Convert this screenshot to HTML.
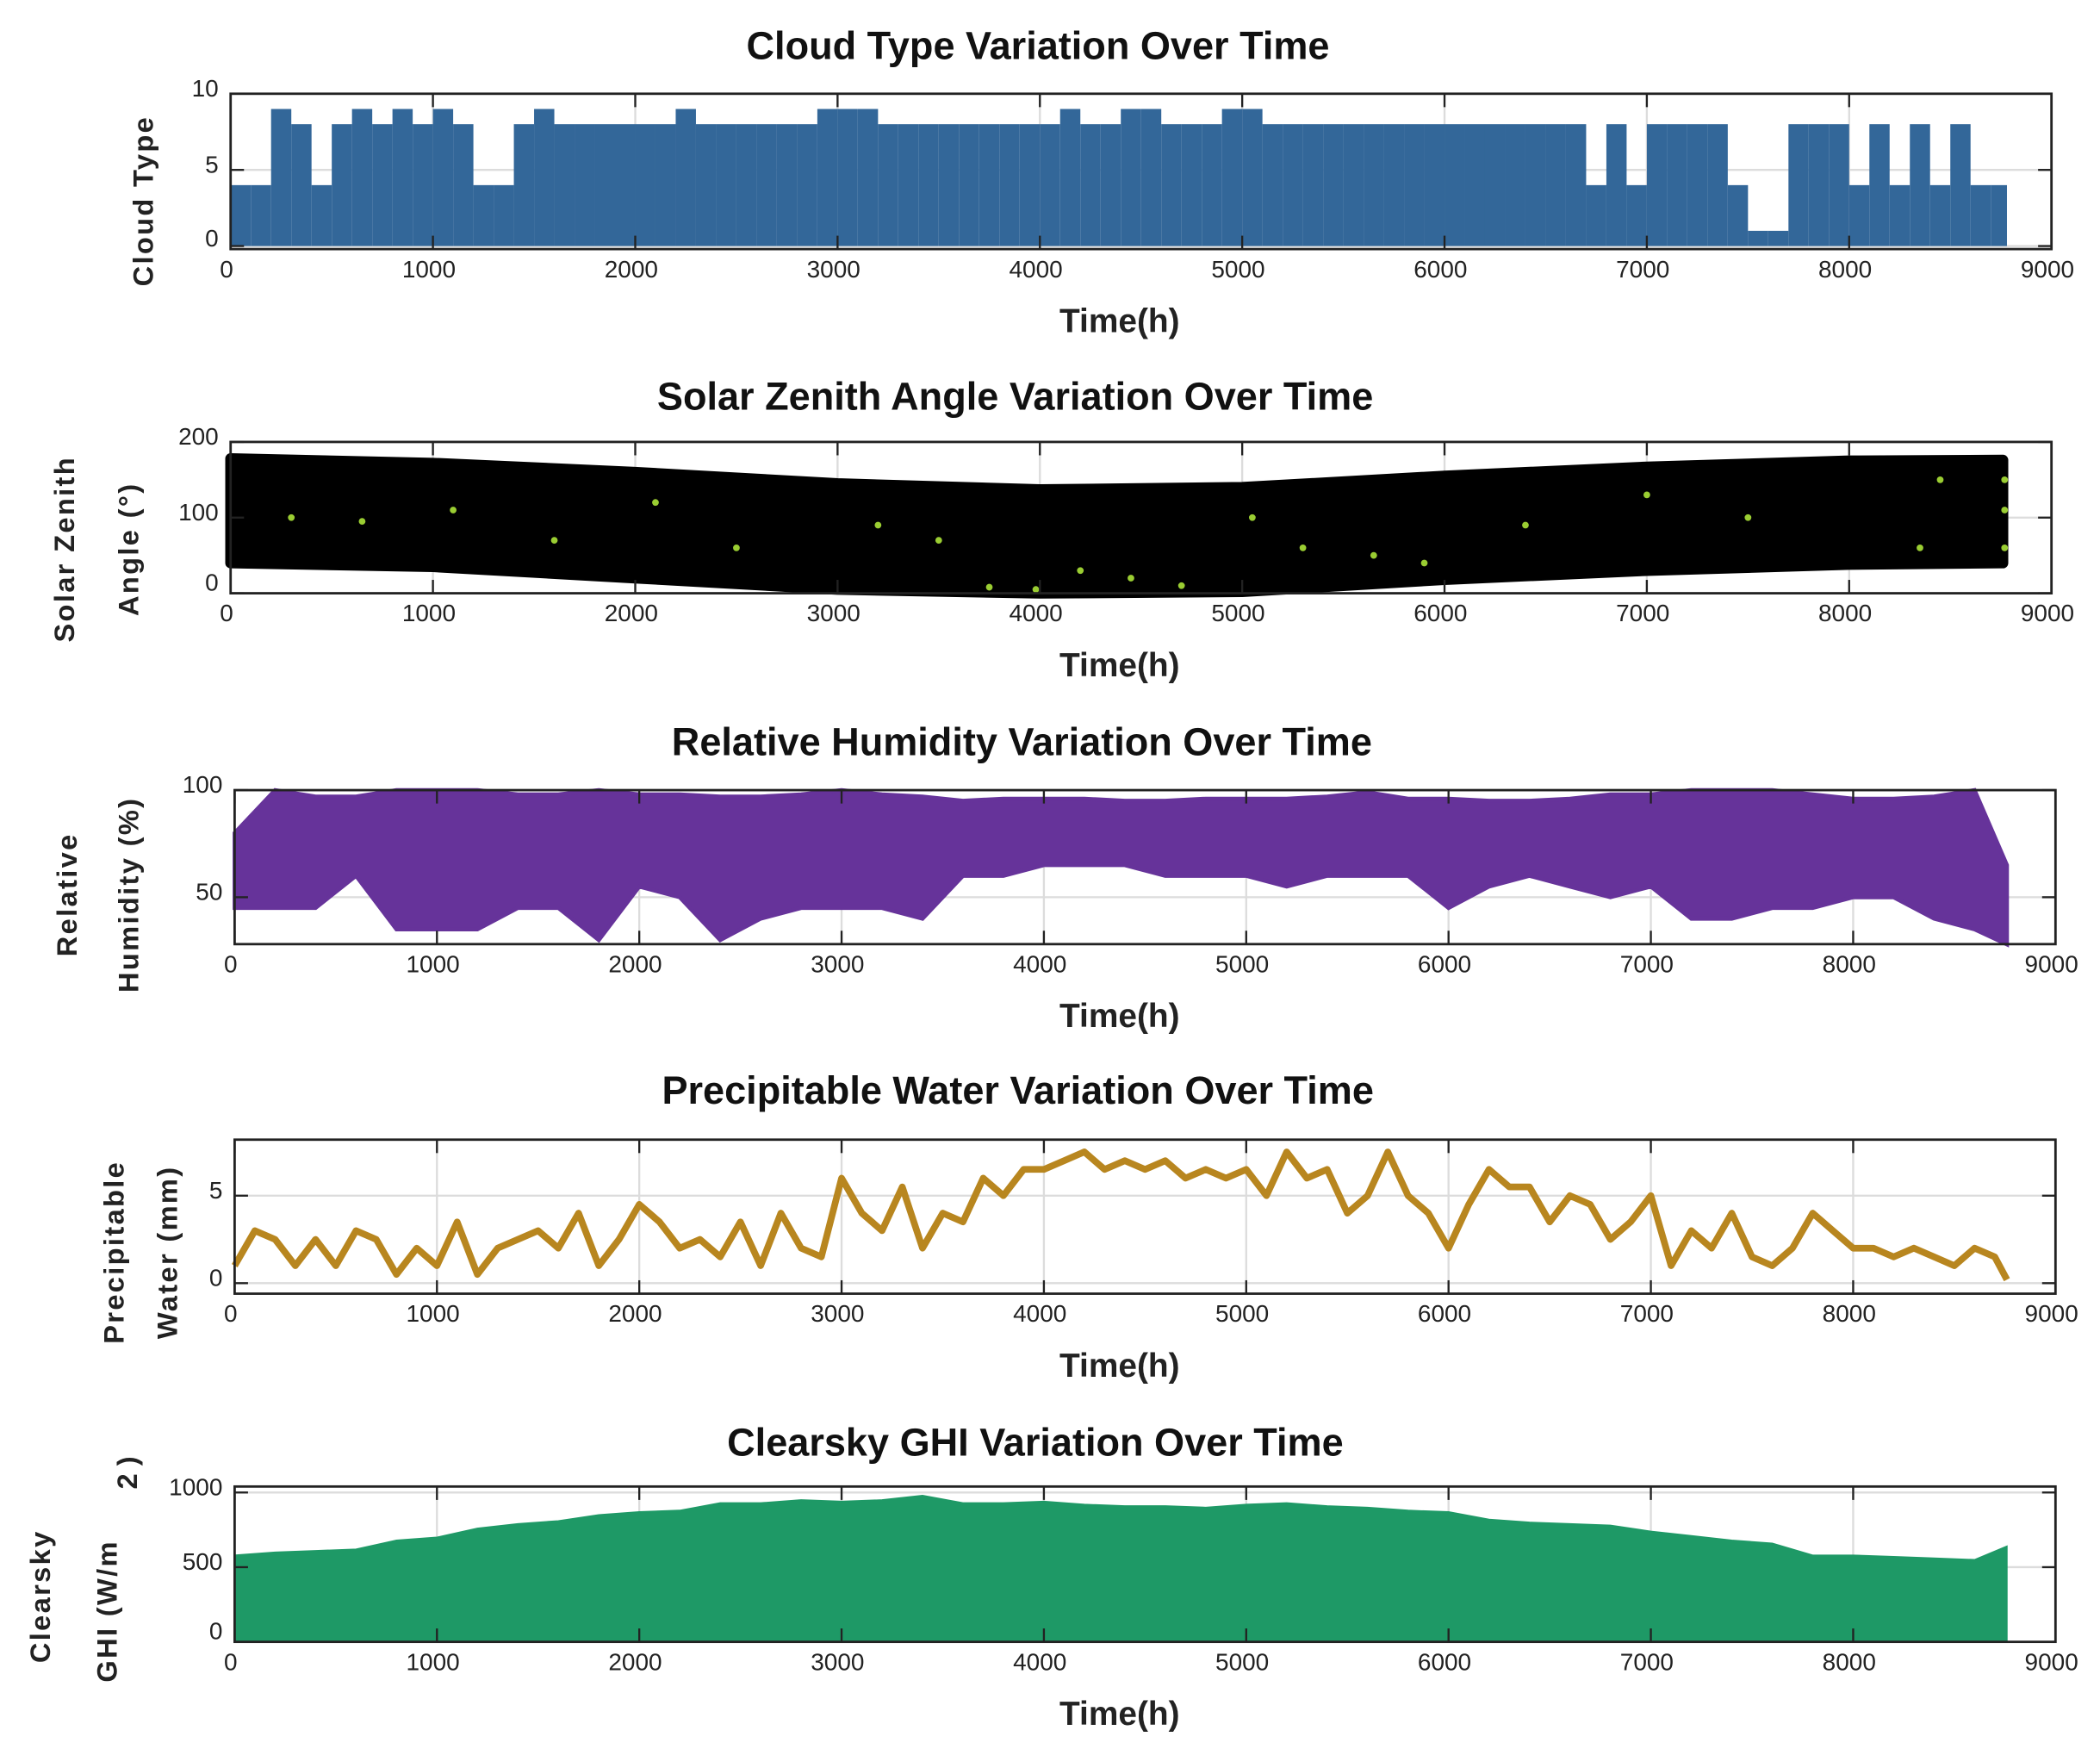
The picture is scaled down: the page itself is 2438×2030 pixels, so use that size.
<!DOCTYPE html>
<html><head><meta charset="utf-8"><style>
html,body{margin:0;padding:0;background:#fff;}
svg{display:block;font-family:"Liberation Sans",sans-serif;}
</style></head><body>
<svg id="fig" width="2438" height="2030" viewBox="0 0 1568 1306" xmlns="http://www.w3.org/2000/svg"></svg>
<script>
// ---------- data ----------
const xTicks=[0,1000,2000,3000,4000,5000,6000,7000,8000,9000];
// cloud type: max per 100h bin
const cloudMax=[4,4,9,8,4,8,9,8,9,8,9,8,4,4,8,9,8,8,8,8,8,8,9,8,8,8,8,8,8,9,9,9,8,8,8,8,8,8,8,8,8,9,8,8,9,9,8,8,8,9,9,8,8,8,8,8,8,8,8,8,8,8,8,8,8,8,8,4,8,4,8,8,8,8,4,1,1,8,8,8,4,8,4,8,4,8,4,4];
const cloudTicks=[0,5,10];
// solar zenith envelope (every 1000h, last 8760)
const zenHours=[0,1000,2000,3000,4000,5000,6000,7000,8000,8760];
const zenUpper=[178,172,160,145,137,140,155,167,175,176];
const zenLower=[40,35,20,5,0,2,18,30,38,40];
const zenDotH=[300,650,1100,1600,2100,2500,3200,3500,3750,3980,4200,4450,4700,5050,5300,5650,5900,6400,7000,7500,8350,8450,8800,8800,8800];
const zenDotV=[100,95,110,70,120,60,90,70,8,5,30,20,10,100,60,50,40,90,130,100,60,150,150,110,60];
const zenTicks=[0,100,200];
// relative humidity per 200h
const rhHours=[0,200,400,600,800,1000,1200,1400,1600,1800,2000,2200,2400,2600,2800,3000,3200,3400,3600,3800,4000,4200,4400,4600,4800,5000,5200,5400,5600,5800,6000,6200,6400,6600,6800,7000,7200,7400,7600,7800,8000,8200,8400,8600,8760];
const rhMin=[45,45,45,60,35,35,35,45,45,30,55,50,30,40,45,45,45,40,60,60,65,65,65,60,60,60,55,60,60,60,45,55,60,55,50,55,40,40,45,45,50,50,40,35,28];
const rhMax=[80,100,97,97,100,100,100,98,98,100,98,98,97,97,98,100,98,97,95,96,96,96,95,95,96,96,96,97,99,96,96,95,95,96,98,98,100,100,100,98,96,96,97,100,65];
const rhTicks=[50,100];
// precipitable water per 100h
const pwValues=[1,3,2.5,1,2.5,1,3,2.5,0.5,2,1,3.5,0.5,2,2.5,3,2,4,1,2.5,4.5,3.5,2,2.5,1.5,3.5,1,4,2,1.5,6,4,3,5.5,2,4,3.5,6,5,6.5,6.5,7,7.5,6.5,7,6.5,7,6,6.5,6,6.5,5,7.5,6,6.5,4,5,7.5,5,4,2,4.5,6.5,5.5,5.5,3.5,5,4.5,2.5,3.5,5,1,3,2,4,1.5,1,2,4,3,2,2,1.5,2,1.5,1,2,1.5,0.2];
const pwTicks=[0,5];
// clearsky GHI envelope per 200h
const ghiHours=[0,200,400,600,800,1000,1200,1400,1600,1800,2000,2200,2400,2600,2800,3000,3200,3400,3600,3800,4000,4200,4400,4600,4800,5000,5200,5400,5600,5800,6000,6200,6400,6600,6800,7000,7200,7400,7600,7800,8000,8200,8400,8600,8760];
const ghiMax=[580,600,610,620,680,700,760,790,810,850,870,880,930,930,950,940,950,980,930,930,940,920,910,910,900,920,930,910,900,880,870,820,800,790,780,740,710,680,660,580,580,570,560,550,640];
const ghiTicks=[0,500,1000];

// ---------- helpers ----------
const NS="http://www.w3.org/2000/svg";
const svg=document.getElementById('fig');
function mk(tag,attrs,parent){const e=document.createElementNS(NS,tag);for(const k in attrs)e.setAttribute(k,attrs[k]);(parent||svg).appendChild(e);return e;}
function makeAxes(p){
  p.sx=v=>p.x0+(v-p.xmin)/(p.xmax-p.xmin)*(p.x1-p.x0);
  p.sy=v=>p.y1-(v-p.ymin)/(p.ymax-p.ymin)*(p.y1-p.y0);
  const g=mk('g',{});
  
  
  xTicks.forEach(t=>{const x=p.sx(t);
    const l=mk('line',{x1:x,x2:x,y1:p.y0,y2:p.y1,stroke:'#dcdcdc','stroke-width':1.5},g);
    });
  p.yt.forEach(t=>{const y=p.sy(t);
    const l=mk('line',{x1:p.x0,x2:p.x1,y1:y,y2:y,stroke:'#dcdcdc','stroke-width':1.5},g);
    });
}
function finishAxes(p){
  const g=mk('g',{});
  
  
  const r=mk('rect',{x:p.x0,y:p.y0,width:p.x1-p.x0,height:p.y1-p.y0,fill:'none',stroke:'#222','stroke-width':1.8},g);
  
  xTicks.forEach(t=>{const x=p.sx(t);
    mk('line',{x1:x,x2:x,y1:p.y0,y2:p.y0+10,stroke:'#222','stroke-width':1.5},g);
    mk('line',{x1:x,x2:x,y1:p.y1,y2:p.y1-10,stroke:'#222','stroke-width':1.5},g);
    const tx=mk('text',{x:x-3,y:p.y1+21,'font-size':18,'text-anchor':'middle',fill:'#222'},g);
    tx.textContent=t;
    });
  p.yt.forEach(t=>{const y=p.sy(t);
    mk('line',{x1:p.x0,x2:p.x0+10,y1:y,y2:y,stroke:'#222','stroke-width':1.5},g);
    mk('line',{x1:p.x1,x2:p.x1-10,y1:y,y2:y,stroke:'#222','stroke-width':1.5},g);
    const tx=mk('text',{x:p.x0-9,y:Math.min(y+2,p.y1-2),'font-size':18,'text-anchor':'end',fill:'#222'},g);
    tx.textContent=t;
    });
  const ti=mk('text',{x:p.tx,y:p.ty,'font-size':29,'font-weight':'bold','text-anchor':'middle',fill:'#111'},g);
  ti.textContent=p.title;
  
  const xl=mk('text',{x:836,y:p.y1+62,'font-size':25,'font-weight':'bold','text-anchor':'middle',fill:'#222'},g);
  xl.textContent='Time(h)';
  
  p.ylab.forEach(([txt,x,cy])=>{
    const yl=mk('text',{x:0,y:0,transform:`translate(${x},${cy}) rotate(-90)`,'font-size':21,'font-weight':'bold','letter-spacing':1.5,'text-anchor':'middle',fill:'#222'},g);
    yl.textContent=txt;
    });
}

// ---------- panel 1: cloud type ----------
const p1={name:'cloud-type',x0:172,x1:1532,y0:70,y1:186,xmin:0,xmax:9000,ymin:-0.2,ymax:10,yt:cloudTicks,
  title:'Cloud Type Variation Over Time',tx:775,ty:44,ylab:[['Cloud Type',114,150]]};
makeAxes(p1);
cloudMax.forEach((v,i)=>{const h0=i*100,h1=Math.min(i*100+100,8780);
  const r=mk('rect',{x:p1.sx(h0),y:p1.sy(v),width:p1.sx(h1)-p1.sx(h0),height:p1.sy(0)-p1.sy(v),fill:'#336799'});
  
  });
finishAxes(p1);

// ---------- panel 2: solar zenith ----------
const p2={name:'solar-zenith',x0:172,x1:1532,y0:330,y1:443,xmin:0,xmax:9000,ymin:0,ymax:200,yt:zenTicks,
  title:'Solar Zenith Angle Variation Over Time',tx:758,ty:306,ylab:[['Solar Zenith',55,410],['Angle (°)',103,410]]};
makeAxes(p2);
{let d='M'+zenHours.map((h,i)=>p2.sx(h)+','+p2.sy(zenUpper[i])).join('L');
 for(let i=zenHours.length-1;i>=0;i--)d+='L'+p2.sx(zenHours[i])+','+p2.sy(zenLower[i]);
 const a=mk('path',{d:d+'Z',fill:'#000',stroke:'#000','stroke-width':8,'stroke-linejoin':'round'});
 
 }
zenDotH.forEach((h,i)=>{const c=mk('circle',{cx:Math.min(p2.sx(h),1497),cy:p2.sy(zenDotV[i]),r:2.5,fill:'#9acd32'});
  
  });
finishAxes(p2);

// ---------- panel 3: humidity ----------
const p3={name:'relative-humidity',x0:175,x1:1535,y0:590,y1:705,xmin:0,xmax:9000,ymin:28.1,ymax:100,yt:rhTicks,
  title:'Relative Humidity Variation Over Time',tx:763,ty:564,ylab:[['Relative',57,668],['Humidity (%)',103,668]]};
makeAxes(p3);
{let d='M'+rhHours.map((h,i)=>p3.sx(h)+','+p3.sy(rhMax[i])).join('L');
 for(let i=rhHours.length-1;i>=0;i--)d+='L'+p3.sx(rhHours[i])+','+p3.sy(rhMin[i]);
 const a=mk('path',{d:d+'Z',fill:'#66339a',stroke:'#66339a','stroke-width':3});
 
 }
finishAxes(p3);

// ---------- panel 4: precipitable water ----------
const p4={name:'precipitable-water',x0:175,x1:1535,y0:851,y1:966,xmin:0,xmax:9000,ymin:-0.6,ymax:8.2,yt:pwTicks,
  title:'Precipitable Water Variation Over Time',tx:760,ty:824,ylab:[['Precipitable',92,935],['Water (mm)',132,935]]};
makeAxes(p4);
{const pts=pwValues.map((v,i)=>p4.sx(Math.min(i*100,8760))+','+p4.sy(v)).join(' ');
 const l=mk('polyline',{points:pts,fill:'none',stroke:'#b8861f','stroke-width':5,'stroke-linejoin':'round'});
 
 }
finishAxes(p4);

// ---------- panel 5: GHI ----------
const p5={name:'clearsky-ghi',x0:175,x1:1535,y0:1110,y1:1226,xmin:0,xmax:9000,ymin:0,ymax:1040,yt:ghiTicks,
  title:'Clearsky GHI Variation Over Time',tx:773,ty:1087,ylab:[['Clearsky',37,1192],['GHI (W/m',87,1203]]};
makeAxes(p5);
{let d='M'+p5.sx(0)+','+p5.sy(0)+'L'+ghiHours.map((h,i)=>p5.sx(h)+','+p5.sy(ghiMax[i])).join('L')+'L'+p5.sx(8760)+','+p5.sy(0)+'Z';
 const a=mk('path',{d:d,fill:'#1e9966',stroke:'#1e9966','stroke-width':1});
 
 }
finishAxes(p5);
{const s=mk('text',{x:0,y:0,transform:'translate(102,1112) rotate(-90)','font-size':21,'font-weight':'bold',fill:'#222'});
 s.textContent='2  )';
 
 }
</script>
</body></html>
